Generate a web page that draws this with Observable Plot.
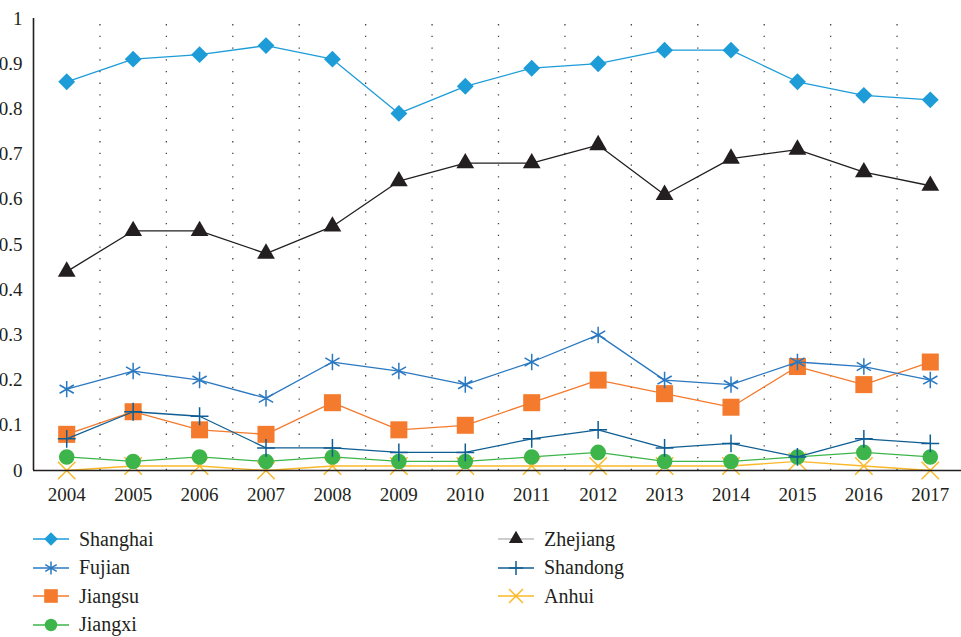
<!DOCTYPE html>
<html>
<head>
<meta charset="utf-8">
<script src="https://cdn.jsdelivr.net/npm/d3@7"></script>
<script src="https://cdn.jsdelivr.net/npm/@observablehq/plot@0.6"></script>
<style>
  body { margin: 0; background: #fff; color: #231f20; }
  #legend { display: grid; grid-template-columns: 465px 300px; padding-left: 33px; padding-top: 10px; }
  .item { display: flex; align-items: center; height: 28.5px; }
  .item svg { margin-right: 10px; overflow: visible; }
  .lab { font-family: 'Liberation Serif'; font-size: 20px; }
</style>
</head>
<body>
<div id="chart"></div>
<div id="legend"></div>
<script>
const years = [2004,2005,2006,2007,2008,2009,2010,2011,2012,2013,2014,2015,2016,2017];
const yTicks = [0,0.1,0.2,0.3,0.4,0.5,0.6,0.7,0.8,0.9,1];

const shanghai = [0.86,0.91,0.92,0.94,0.91,0.79,0.85,0.89,0.90,0.93,0.93,0.86,0.83,0.82];
const zhejiang = [0.44,0.53,0.53,0.48,0.54,0.64,0.68,0.68,0.72,0.61,0.69,0.71,0.66,0.63];
const fujian   = [0.18,0.22,0.20,0.16,0.24,0.22,0.19,0.24,0.30,0.20,0.19,0.24,0.23,0.20];
const jiangsu  = [0.08,0.13,0.09,0.08,0.15,0.09,0.10,0.15,0.20,0.17,0.14,0.23,0.19,0.24];
const shandong = [0.07,0.13,0.12,0.05,0.05,0.04,0.04,0.07,0.09,0.05,0.06,0.03,0.07,0.06];
const jiangxi  = [0.03,0.02,0.03,0.02,0.03,0.02,0.02,0.03,0.04,0.02,0.02,0.03,0.04,0.03];
const anhui    = [0.00,0.01,0.01,0.00,0.01,0.01,0.01,0.01,0.01,0.01,0.01,0.02,0.01,0.00];

const legendOrder = ["Shanghai","Zhejiang","Fujian","Shandong","Jiangsu","Anhui","Jiangxi"];
const series = [
  {name:"Anhui",    values:anhui,    color:"#fbb829", line:"#fbb829", symbol:"times",    r:8,   fill:"none"},
  {name:"Jiangxi",  values:jiangxi,  color:"#3db54a", line:"#3db54a", symbol:"circle",   r:7.8, fill:"#3db54a"},
  {name:"Jiangsu",  values:jiangsu,  color:"#f47a2d", line:"#f47a2d", symbol:"square",   r:9.6, fill:"#f47a2d"},
  {name:"Shandong", values:shandong, color:"#0f5e93", line:"#0f5e93", symbol:"plus",     r:5.8, fill:"none"},
  {name:"Fujian",   values:fujian,   color:"#2a78c0", line:"#2a78c0", symbol:"asterisk", r:7.8, fill:"none"},
  {name:"Zhejiang", values:zhejiang, color:"#231f20", line:"#231f20", symbol:"triangle", r:6.6, fill:"#231f20", legendLine:"#bdbdbd"},
  {name:"Shanghai", values:shanghai, color:"#1d9cd8", line:"#1d9cd8", symbol:"diamond2", r:7.6, fill:"#1d9cd8"}
];

const marks = [
  Plot.ruleX(years.slice(0,-1).map(y => y + 0.5), {y1:0, y2:1, stroke:"#444", strokeWidth:1.3, strokeDasharray:"1.3,10.4"}),
];
for (const s of series) {
  const data = years.map((y,i) => ({year:y, value:s.values[i]}));
  marks.push(Plot.line(data, {x:"year", y:"value", stroke:s.line, strokeWidth:1.3}));
  marks.push(Plot.dot(data, {x:"year", y:"value", symbol:()=>s.symbol, r:s.r,
    fill: s.fill, stroke: s.fill === "none" ? s.color : "none", strokeWidth:1.5}));
}
marks.push(
  Plot.ruleY([0], {stroke:"#231f20", strokeWidth:1.6}),
  Plot.ruleX([2003.5], {y1:0, y2:1, stroke:"#231f20", strokeWidth:1.6}),
  Plot.axisY(yTicks, {tickSize:0, tickPadding:11, tickFormat:d3.format("~g"), fill:"#231f20", label:null}),
  Plot.axisX(years, {tickSize:0, tickPadding:17, tickFormat:d=>String(d), fill:"#231f20", label:null})
);

const chart = Plot.plot({
  width: 961,
  height: 515,
  marginTop: 18,
  marginBottom: 45,
  marginLeft: 33,
  marginRight: 0,
  x: {domain:[2003.5, 2017.5], range:[33, 963]},
  y: {domain:[0,1]},
  style: {overflow:"visible", background:"#fff"},
  marks
});
chart.querySelectorAll("text").forEach(t => {
  t.style.setProperty("font-family", "Liberation Serif", "important");
  t.style.setProperty("font-size", "19px", "important");
});
chart.querySelectorAll("g[aria-label$='axis tick label']").forEach(g => {
  g.setAttribute("font-family", "Liberation Serif");
  g.setAttribute("font-size", "19");
});
document.getElementById("chart").appendChild(chart);

const legend = document.getElementById("legend");
const typeMap = {times:d3.symbolTimes, circle:d3.symbolCircle, square:d3.symbolSquare, plus:d3.symbolPlus,
  asterisk:d3.symbolAsterisk, triangle:d3.symbolTriangle, diamond2:d3.symbolDiamond2};
for (const name of legendOrder) {
  const s = series.find(d => d.name === name);
  const item = document.createElement("div");
  item.className = "item";
  legend.appendChild(item);
  const svg = d3.select(item).append("svg").attr("width",36).attr("height",20);
  svg.append("line").attr("x1",0).attr("x2",36).attr("y1",10).attr("y2",10)
    .attr("stroke", s.legendLine || s.line).attr("stroke-width",1.5);
  const rr = s.r * 0.8;
  svg.append("path").attr("transform","translate(18,10)")
    .attr("d", d3.symbol(typeMap[s.symbol], Math.PI*rr*rr)())
    .attr("fill", s.fill).attr("stroke", s.fill === "none" ? s.color : "none").attr("stroke-width",1.5);
  const lab = document.createElement("div");
  lab.className = "lab";
  lab.style.setProperty("font-family", "Liberation Serif", "important");
  lab.textContent = s.name;
  item.appendChild(lab);
}
</script>
</body>
</html>
